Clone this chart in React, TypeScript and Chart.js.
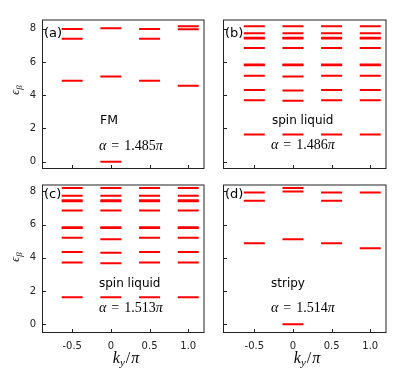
import React, { useEffect, useRef } from "react";
import { Chart, registerables } from "chart.js";

Chart.register(...registerables);

// ---- data ----
const kValues = [-0.5, 0, 0.5, 1.0];
const kTickLabels = ["-0.5", "0", "0.5", "1.0"];
const energyTicks = [0, 2, 4, 6, 8];
const energyTickLabels = ["0", "2", "4", "6", "8"];

// energy levels (one list per k value)
const fmLevels = [
  [4.87, 7.4, 7.99],
  [0.0, 5.13, 8.03],
  [4.87, 7.4, 7.99],
  [4.57, 7.98, 8.15],
];
const spinLiquidBLevels = [
  [1.63, 3.7, 4.32, 5.17, 5.8, 5.85, 6.84, 7.42, 7.47, 7.73, 8.15],
  [1.63, 3.67, 4.29, 5.13, 5.8, 5.85, 6.84, 7.42, 7.47, 7.73, 8.15],
  [1.63, 3.7, 4.32, 5.17, 5.8, 5.85, 6.84, 7.42, 7.47, 7.73, 8.15],
  [1.63, 3.7, 4.32, 5.17, 5.8, 5.85, 6.84, 7.42, 7.47, 7.73, 8.15],
];
const spinLiquidCLevels = [
  [1.62, 3.71, 4.35, 5.2, 5.79, 5.84, 6.85, 7.41, 7.46, 7.74, 8.2],
  [1.62, 3.67, 4.31, 5.12, 5.79, 5.84, 6.85, 7.41, 7.46, 7.74, 8.2],
  [1.62, 3.71, 4.35, 5.2, 5.79, 5.84, 6.85, 7.41, 7.46, 7.74, 8.2],
  [1.62, 3.71, 4.35, 5.2, 5.79, 5.84, 6.85, 7.41, 7.46, 7.74, 8.2],
];
const stripyLevels = [
  [4.88, 7.43, 7.94],
  [0.0, 5.11, 8.0, 8.2],
  [4.88, 7.43, 7.94],
  [4.58, 7.94],
];

const panelTags = ["(a)", "(b)", "(c)", "(d)"];
const phaseNames = ["FM", "spin liquid", "spin liquid", "stripy"];
const alphaValues = ["1.485", "1.486", "1.513", "1.514"];

// ---- layout ----
const ML = 42; // room for y tick labels
const PT = 10;
const PR = 4;
const MB = 26; // room for x tick labels

const panels = [
  { levels: fmLevels, left: 42, top: 17, w: 171, h: 152, xMin: -0.89, xMax: 1.21, yMin: -0.444, yMax: 8.563, showX: false, showY: true },
  { levels: spinLiquidBLevels, left: 223, top: 17, w: 172, h: 152, xMin: -0.905, xMax: 1.21, yMin: -0.444, yMax: 8.563, showX: false, showY: false },
  { levels: spinLiquidCLevels, left: 42, top: 182, w: 171, h: 151, xMin: -0.89, xMax: 1.21, yMin: -0.533, yMax: 8.415, showX: true, showY: true },
  { levels: stripyLevels, left: 223, top: 182, w: 172, h: 151, xMin: -0.905, xMax: 1.21, yMin: -0.533, yMax: 8.415, showX: true, showY: false },
];

const AXIS = "#222";

const framePlugin = {
  id: "frameTicks",
  afterDraw(chart: any) {
    const { ctx, chartArea: a, scales } = chart;
    ctx.save();
    ctx.strokeStyle = AXIS;
    ctx.lineWidth = 1;
    ctx.strokeRect(a.left + 0.5, a.top + 0.5, a.right - a.left - 1, a.bottom - a.top - 1);
    ctx.beginPath();
    for (const v of kValues) {
      const px = Math.round(scales.x.getPixelForValue(v)) + 0.5;
      ctx.moveTo(px, a.bottom - 1);
      ctx.lineTo(px, a.bottom - 4);
    }
    for (const v of energyTicks) {
      const py = Math.round(scales.y.getPixelForValue(v)) + 0.5;
      ctx.moveTo(a.left + 1, py);
      ctx.lineTo(a.left + 4, py);
    }
    ctx.stroke();
    ctx.restore();
  },
};

function Panel({ spec }: { spec: any }) {
  const ref = useRef<HTMLCanvasElement>(null);
  const W = ML + spec.w + PR;
  const H = PT + spec.h + MB;
  useEffect(() => {
    const canvas = ref.current!;
    const points = kValues.flatMap((k, i) => spec.levels[i].map((e: number) => ({ x: k, y: e })));
    const tickFont = { family: "'DejaVu Sans', sans-serif", size: 10 };
    const chart = new Chart(canvas, {
      type: "scatter",
      data: {
        datasets: [
          {
            data: points,
            pointStyle: "line",
            pointRadius: 10.5,
            pointHoverRadius: 10.5,
            pointBorderWidth: 2,
            pointHoverBorderWidth: 2,
            pointBorderColor: "#ff0000",
            pointBackgroundColor: "#ff0000",
            showLine: false,
          } as any,
        ],
      },
      options: {
        responsive: false,
        animation: false,
        events: [],
        layout: { padding: { top: PT, right: PR, left: 0, bottom: 0 } },
        plugins: { legend: { display: false }, tooltip: { enabled: false } },
        scales: {
          x: {
            type: "linear",
            position: "bottom",
            min: spec.xMin,
            max: spec.xMax,
            grid: { display: false, drawTicks: false },
            border: { display: false },
            ticks: {
              display: spec.showX,
              padding: 7,
              font: tickFont,
              color: AXIS,
              callback: (v: any) => {
                const i = kValues.indexOf(Number(v));
                return i >= 0 ? kTickLabels[i] : "";
              },
            },
            afterBuildTicks: (s: any) => {
              s.ticks = kValues.map((v) => ({ value: v }));
            },
            afterFit: (s: any) => {
              s.height = MB;
              s.paddingLeft = 0;
              s.paddingRight = 0;
              s.paddingTop = 0;
              s.paddingBottom = 0;
            },
          },
          y: {
            type: "linear",
            position: "left",
            min: spec.yMin,
            max: spec.yMax,
            grid: { display: false, drawTicks: false },
            border: { display: false },
            ticks: {
              display: spec.showY,
              padding: 6,
              font: tickFont,
              color: AXIS,
              callback: (v: any) => {
                const i = energyTicks.indexOf(Number(v));
                return i >= 0 ? energyTickLabels[i] : "";
              },
            },
            afterBuildTicks: (s: any) => {
              s.ticks = energyTicks.map((v) => ({ value: v }));
            },
            afterFit: (s: any) => {
              s.width = ML;
              s.paddingLeft = 0;
              s.paddingRight = 0;
              s.paddingTop = 0;
              s.paddingBottom = 0;
            },
          },
        },
      } as any,
      plugins: [framePlugin],
    });
    return () => chart.destroy();
  }, []);
  return (
    <canvas
      ref={ref}
      width={W}
      height={H}
      style={{ position: "absolute", left: spec.left - ML, top: spec.top - PT, width: W, height: H }}
    />
  );
}

function Txt({ x, baseline, size, family, style, children }: any) {
  return (
    <div
      style={{
        position: "absolute",
        left: x,
        top: baseline - 0.85 * size,
        fontSize: size,
        lineHeight: `${size}px`,
        fontFamily: family,
        whiteSpace: "nowrap",
        color: "#000",
        ...style,
      }}
    >
      {children}
    </div>
  );
}

const SANS = "'DejaVu Sans', sans-serif";
const SERIF = "'Liberation Serif', serif";

function AlphaLabel({ x, baseline, value }: any) {
  return (
    <Txt x={x} baseline={baseline} size={14} family={SERIF}>
      <i>α</i>
      <span style={{ margin: "0 5px" }}>=</span>
      {value}
      <i>π</i>
    </Txt>
  );
}

function XTitle({ cx }: any) {
  return (
    <div
      style={{
        position: "absolute",
        left: cx - 40,
        width: 80,
        top: 364 - 0.85 * 16,
        textAlign: "center",
        fontSize: 16,
        lineHeight: "16px",
        fontFamily: SERIF,
        whiteSpace: "nowrap",
      }}
    >
      <i>k</i>
      <i style={{ fontSize: 11, position: "relative", top: 3 }}>y</i>
      <span style={{ margin: "0 1px" }}>/</span>
      <i>π</i>
    </div>
  );
}

function YTitle({ cy }: any) {
  return (
    <div
      style={{
        position: "absolute",
        left: 15 - 20,
        width: 40,
        top: cy - 8,
        height: 16,
        lineHeight: "16px",
        textAlign: "center",
        transform: "rotate(-90deg)",
        fontSize: 12,
        fontFamily: SERIF,
        whiteSpace: "nowrap",
        color: "#222",
      }}
    >
      <i>ϵ</i>
      <i style={{ fontSize: 9, position: "relative", top: 3 }}>β</i>
    </div>
  );
}

export default function App() {
  return (
    <div
      style={{
        position: "absolute",
        left: 0,
        top: 0,
        width: 415,
        height: 378,
        background: "#fff",
        overflow: "hidden",
      }}
    >
      {panels.map((p, i) => (
        <Panel key={i} spec={p} />
      ))}
      <Txt x={44} baseline={37.5} size={13} family={SANS}>{panelTags[0]}</Txt>
      <Txt x={225} baseline={37.5} size={13} family={SANS}>{panelTags[1]}</Txt>
      <Txt x={44} baseline={198} size={13} family={SANS}>{panelTags[2]}</Txt>
      <Txt x={225} baseline={198} size={13} family={SANS}>{panelTags[3]}</Txt>

      <Txt x={100} baseline={125} size={12.5} family={SANS}>{phaseNames[0]}</Txt>
      <Txt x={272} baseline={124} size={12} family={SANS}>{phaseNames[1]}</Txt>
      <Txt x={99} baseline={287} size={12} family={SANS}>{phaseNames[2]}</Txt>
      <Txt x={271} baseline={287} size={12} family={SANS}>{phaseNames[3]}</Txt>

      <AlphaLabel x={99} baseline={150.5} value={alphaValues[0]} />
      <AlphaLabel x={271} baseline={150} value={alphaValues[1]} />
      <AlphaLabel x={99} baseline={312.7} value={alphaValues[2]} />
      <AlphaLabel x={271} baseline={313} value={alphaValues[3]} />

      <XTitle cx={126} />
      <XTitle cx={307} />
      <YTitle cy={90} />
      <YTitle cy={257} />
    </div>
  );
}
